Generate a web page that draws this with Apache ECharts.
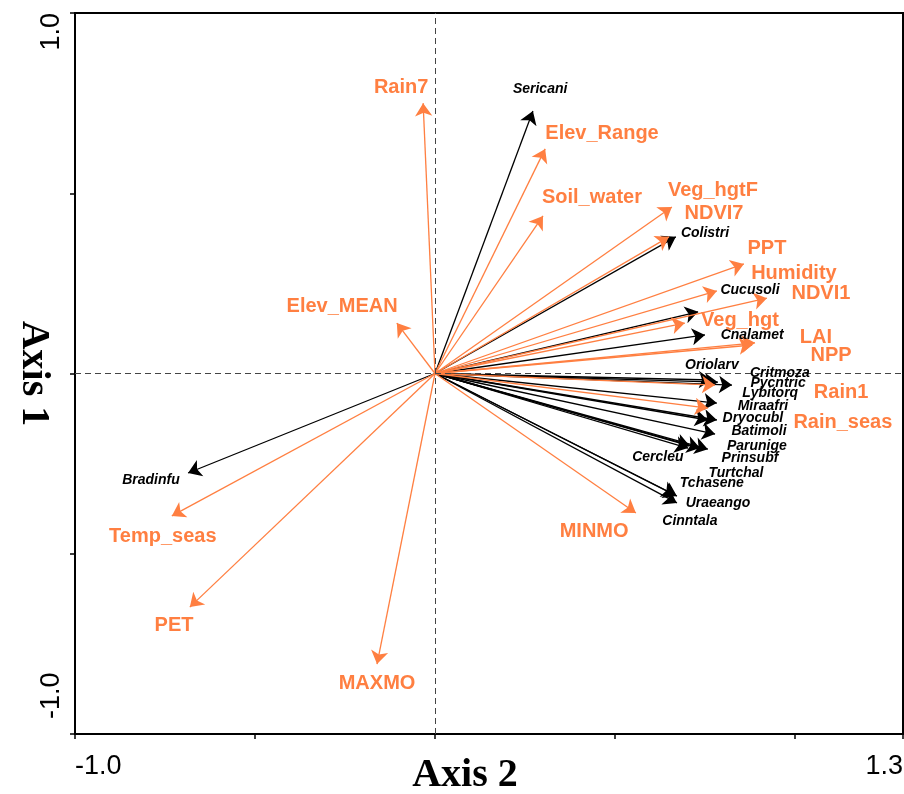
<!DOCTYPE html>
<html>
<head>
<meta charset="utf-8">
<script src="https://cdn.jsdelivr.net/npm/echarts@6/dist/echarts.min.js"></script>
<style>
html,body{margin:0;padding:0;background:#fff;}
#chart{width:904px;height:794px;}
</style>
</head>
<body>
<div id="chart"></div>
<script>
// environmental vectors (orange)
var envNames=["Rain7","Elev_Range","Soil_water","Veg_hgtF","NDVI7","PPT","Humidity","NDVI1","Veg_hgt","LAI","NPP","Rain1","Rain_seas","MINMO","MAXMO","PET","Temp_seas","Elev_MEAN"];
var envX=[-0.033,0.306,0.300,0.658,0.650,0.858,0.783,0.922,0.694,0.889,0.881,0.778,0.758,0.558,-0.161,-0.681,-0.731,-0.106];
var envY=[0.750,0.623,0.437,0.462,0.379,0.304,0.229,0.209,0.140,0.085,0.079,-0.032,-0.096,-0.387,-0.806,-0.648,-0.395,0.140];
var envLabelX=[-0.094,0.464,0.436,0.772,0.775,0.922,0.997,1.072,0.847,1.058,1.100,1.128,1.133,0.442,-0.161,-0.725,-0.756,-0.258];
var envLabelY=[0.792,0.667,0.487,0.509,0.445,0.348,0.278,0.223,0.146,0.101,0.049,-0.054,-0.137,-0.437,-0.861,-0.698,-0.451,0.187];

// species vectors (black)
var spNames=["Sericani","Colistri","Cucusoli","Cnalamet","Oriolarv","Critmoza","Pycntric","Lybitorq","Miraafri","Dryocubl","Batimoli","Parunige","Prinsubf","Turtchal","Cercleu","Tchasene","Uraeango","Cinntala","Bradinfu"];
var spX=[0.272,0.669,0.731,0.750,0.769,0.786,0.825,0.783,0.783,0.758,0.778,0.758,0.736,0.703,0.708,0.667,0.672,0.672,-0.686];
var spY=[0.728,0.379,0.171,0.107,-0.018,-0.024,-0.032,-0.082,-0.129,-0.129,-0.168,-0.210,-0.207,-0.207,-0.201,-0.337,-0.340,-0.359,-0.276];
var spLabelX=[0.292,0.750,0.875,0.881,0.769,0.958,0.953,0.931,0.911,0.883,0.900,0.894,0.875,0.836,0.619,0.769,0.786,0.708,-0.789];
var spLabelY=[0.789,0.390,0.232,0.107,0.024,0.001,-0.026,-0.054,-0.090,-0.124,-0.160,-0.201,-0.234,-0.276,-0.232,-0.304,-0.359,-0.409,-0.295];

var ORANGE='#ff7f41';

function arrows(xs,ys){
  return xs.map(function(x,i){return {coords:[[0,0],[x,ys[i]]]};});
}
function labels(names,xs,ys){
  return names.map(function(n,i){return {name:n,value:[xs[i],ys[i]]};});
}

var chart=echarts.init(document.getElementById('chart'));
chart.setOption({
  animation:false,
  grid:{left:75,right:1,top:13,bottom:60,containLabel:false,outerBoundsMode:'none',show:true,borderColor:'#000',borderWidth:2,backgroundColor:'transparent'},
  xAxis:{
    type:'value',min:-1,max:1.3,interval:0.5,
    name:'Axis 2',nameLocation:'middle',nameGap:22,nameMoveOverlap:false,
    nameTextStyle:{fontFamily:'Liberation Serif',fontWeight:'bold',fontSize:40,color:'#000',padding:[0,48,0,0]},
    axisLine:{onZero:false,lineStyle:{color:'#000',width:2}},
    axisTick:{show:true,length:5,lineStyle:{color:'#000',width:1.5}},
    splitLine:{show:false},
    axisLabel:{
      fontFamily:'Liberation Sans',fontSize:27,color:'#000',margin:19,
      showMinLabel:true,showMaxLabel:true,alignMinLabel:'left',alignMaxLabel:'right',
      formatter:function(v){if(v===-1)return '-1.0';if(Math.abs(v-1.3)<1e-6)return '1.3';return '';}
    }
  },
  yAxis:{
    type:'value',min:-1,max:1,interval:0.5,
    name:'Axis 1',nameLocation:'middle',nameGap:22,nameRotate:-90,nameMoveOverlap:false,
    nameTextStyle:{fontFamily:'Liberation Serif',fontWeight:'bold',fontSize:40,color:'#000'},
    axisLine:{onZero:false,lineStyle:{color:'#000',width:2}},
    axisTick:{show:true,length:5,lineStyle:{color:'#000',width:1.5}},
    splitLine:{show:false},
    axisLabel:{
      fontFamily:'Liberation Sans',fontSize:27,color:'#000',margin:10,rotate:90,
      showMinLabel:true,showMaxLabel:true,alignMinLabel:'left',alignMaxLabel:'right',
      formatter:function(v){if(v===-1)return '  -1.0';if(v===1)return '1.0';return '';}
    }
  },
  series:[
    {
      type:'lines',coordinateSystem:'cartesian2d',
      symbol:['none','arrow'],symbolSize:[9,13],
      lineStyle:{color:'#000',width:1.3,opacity:1},
      data:arrows(spX,spY),
      markLine:{
        silent:true,symbol:'none',label:{show:false},
        lineStyle:{color:'#444',type:[6,4],width:1},
        data:[{xAxis:0},{yAxis:0}]
      },
      z:3
    },
    {
      type:'lines',coordinateSystem:'cartesian2d',
      symbol:['none','arrow'],symbolSize:[9,13],
      lineStyle:{color:ORANGE,width:1.3,opacity:1},
      data:arrows(envX,envY),
      z:4
    },
    {
      type:'scatter',symbolSize:1,itemStyle:{color:'rgba(0,0,0,0)',opacity:1},silent:true,
      label:{show:true,position:'inside',formatter:'{b}',opacity:1,fontFamily:'Liberation Sans',fontWeight:'bold',fontStyle:'italic',fontSize:14,color:'#000'},
      data:labels(spNames,spLabelX,spLabelY),
      z:5
    },
    {
      type:'scatter',symbolSize:1,itemStyle:{color:'rgba(0,0,0,0)',opacity:1},silent:true,
      label:{show:true,position:'inside',formatter:'{b}',opacity:1,fontFamily:'Liberation Sans',fontWeight:'bold',fontSize:20,color:ORANGE},
      data:labels(envNames,envLabelX,envLabelY),
      z:5
    }
  ]
});
</script>
</body>
</html>
